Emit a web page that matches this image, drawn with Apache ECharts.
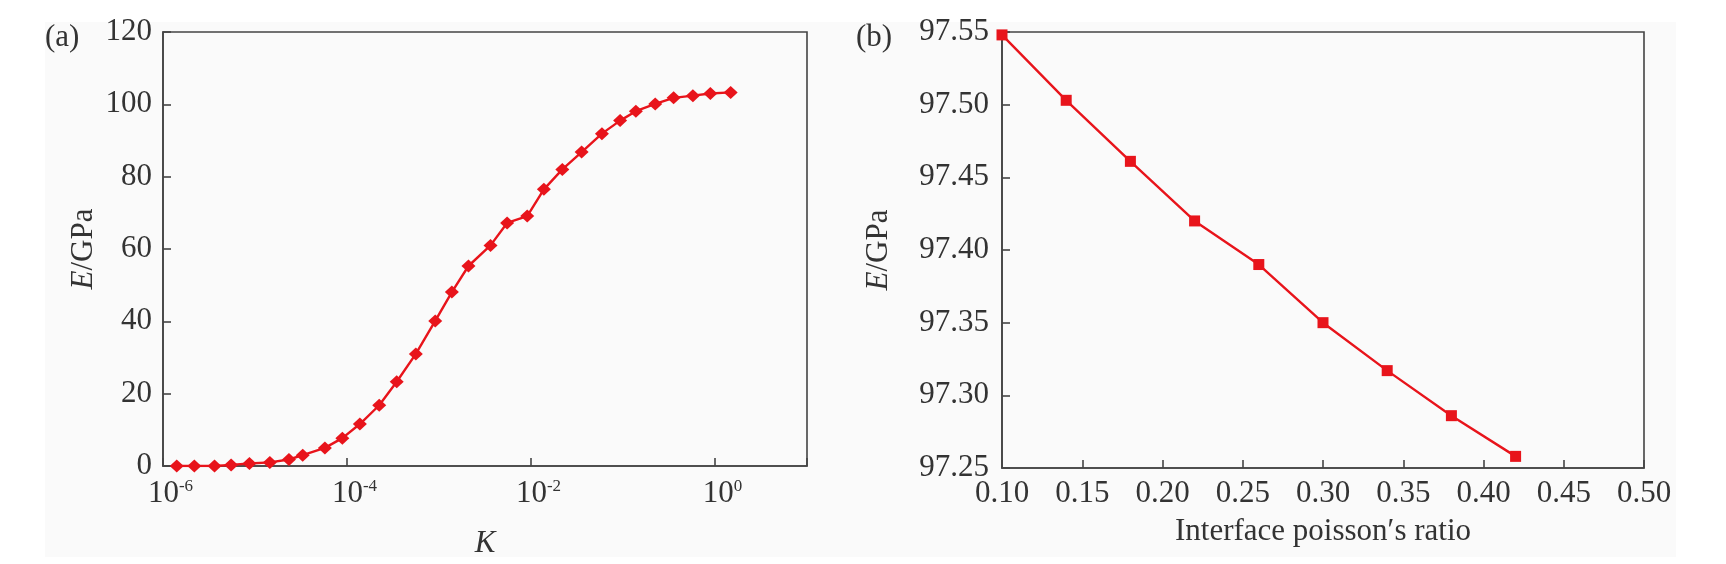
<!DOCTYPE html>
<html>
<head>
<meta charset="utf-8">
<script src="https://cdn.jsdelivr.net/npm/echarts@6/dist/echarts.min.js"></script>
<style>
html,body{margin:0;padding:0;background:#fff;}
#container{width:1726px;height:564px;}
</style>
</head>
<body>
<div id="container"></div>
<script>
// (a) modulus vs K (log scale)
var kValues = [1.41e-6, 2.19e-6, 3.63e-6, 5.5e-6, 8.7e-6, 1.45e-5, 2.34e-5, 3.3e-5, 5.75e-5, 8.9e-5,
    1.38e-4, 2.24e-4, 3.47e-4, 5.6e-4, 9.1e-4, 1.38e-3, 2.09e-3, 3.63e-3, 5.5e-3, 9.1e-3,
    1.38e-2, 2.19e-2, 3.55e-2, 5.9e-2, 9.3e-2, 0.138, 0.224, 0.355, 0.575, 0.89, 1.48];
var eValuesA = [0, 0, 0, 0.3, 0.7, 1.0, 1.8, 3.0, 5.0, 7.7,
    11.6, 16.8, 23.3, 31.0, 40.1, 48.1, 55.3, 61.0, 67.2, 69.1,
    76.5, 82.0, 86.8, 91.9, 95.5, 98.1, 100.1, 101.8, 102.4, 103.0, 103.3];
// (b) modulus vs interface poisson's ratio
var poisson = [0.10, 0.14, 0.18, 0.22, 0.26, 0.30, 0.34, 0.38, 0.42];
var eValuesB = [97.548, 97.503, 97.461, 97.420, 97.390, 97.350, 97.317, 97.286, 97.258];

var dom = document.getElementById('container');
var myChart = echarts.init(dom);
var font = 'Liberation Serif';
var fs = 31;
var textColor = '#333';
var lineColor = '#444';
var red = '#e8141b';

function zip(xs, ys){
    var out = [];
    for (var i = 0; i < xs.length; i++) out.push([xs[i], ys[i]]);
    return out;
}

function axisBase(){
    return {
        axisLine: {show: true, onZero: false, lineStyle: {color: lineColor, width: 1.6}},
        axisTick: {show: true, inside: true, length: 8, lineStyle: {color: lineColor, width: 1.6}},
        splitLine: {show: false},
        axisLabel: {color: textColor, fontFamily: font, fontSize: fs},
        nameTextStyle: {color: textColor, fontFamily: font, fontSize: fs}
    };
}

var xa = axisBase();
xa.type = 'log';
xa.logBase = 10;
xa.gridIndex = 0;
xa.min = 1e-6;
xa.max = 10;
xa.interval = 2;
xa.axisLabel.margin = 12;
xa.axisLabel.formatter = function(v){
    var e = Math.round(Math.log(v) / Math.LN10);
    if (e % 2 !== 0) return '';
    return '{pad|}10{sup|' + e + '}';
};
xa.axisLabel.rich = {
    pad: {width: 15},
    sup: {fontSize: 17, fontFamily: font, color: textColor, verticalAlign: 'top', lineHeight: 32}
};
xa.axisLabel.lineHeight = 32;
xa.name = 'K';
xa.nameLocation = 'middle';
xa.nameGap = 62;
xa.nameTextStyle.fontStyle = 'italic';

var ya = axisBase();
ya.type = 'value';
ya.gridIndex = 0;
ya.min = 0;
ya.max = 120;
ya.interval = 20;
ya.axisLabel.margin = 11;
ya.name = '{i|E}/GPa';
ya.nameLocation = 'middle';
ya.nameGap = 64;
ya.nameRotate = 90;
ya.nameTextStyle.rich = {i: {fontStyle: 'italic', fontFamily: font, fontSize: fs, color: textColor}};

var xb = axisBase();
xb.type = 'value';
xb.gridIndex = 1;
xb.min = 0.10;
xb.max = 0.50;
xb.interval = 0.05;
xb.axisLabel.margin = 10;
xb.axisLabel.formatter = function(v){ return v.toFixed(2); };
xb.name = 'Interface poisson\u2032s ratio';
xb.nameLocation = 'middle';
xb.nameGap = 48;

var yb = axisBase();
yb.type = 'value';
yb.gridIndex = 1;
yb.min = 97.25;
yb.max = 97.55;
yb.interval = 0.05;
yb.axisLabel.margin = 13;
yb.axisLabel.formatter = function(v){ return v.toFixed(2); };
yb.name = '{i|E}/GPa';
yb.nameLocation = 'middle';
yb.nameGap = 108;
yb.nameRotate = 90;
yb.nameTextStyle.rich = {i: {fontStyle: 'italic', fontFamily: font, fontSize: fs, color: textColor}};

var option = {
    backgroundColor: '#fff',
    animation: false,
    graphic: [
        {type: 'rect', z: -10, shape: {x: 45, y: 22, width: 1631, height: 535}, style: {fill: '#fafafa'}},
        {type: 'text', left: 45, top: 22, style: {text: '(a)', font: fs + 'px "Liberation Serif"', fill: textColor}},
        {type: 'text', left: 856, top: 22, style: {text: '(b)', font: fs + 'px "Liberation Serif"', fill: textColor}}
    ],
    grid: [
        {left: 163, top: 32, width: 644, height: 436, show: true, borderColor: lineColor, borderWidth: 1.6, backgroundColor: 'transparent'},
        {left: 1002, top: 32, width: 642, height: 436, show: true, borderColor: lineColor, borderWidth: 1.6, backgroundColor: 'transparent'}
    ],
    xAxis: [xa, xb],
    yAxis: [ya, yb],
    series: [
        {
            type: 'line',
            xAxisIndex: 0, yAxisIndex: 0,
            data: zip(kValues, eValuesA),
            symbol: 'diamond',
            symbolSize: [14, 13],
            itemStyle: {color: red},
            lineStyle: {color: red, width: 2.4}
        },
        {
            type: 'line',
            xAxisIndex: 1, yAxisIndex: 1,
            data: zip(poisson, eValuesB),
            symbol: 'rect',
            symbolSize: 11,
            itemStyle: {color: red},
            lineStyle: {color: red, width: 2.4}
        }
    ]
};
myChart.setOption(option);
</script>
</body>
</html>
